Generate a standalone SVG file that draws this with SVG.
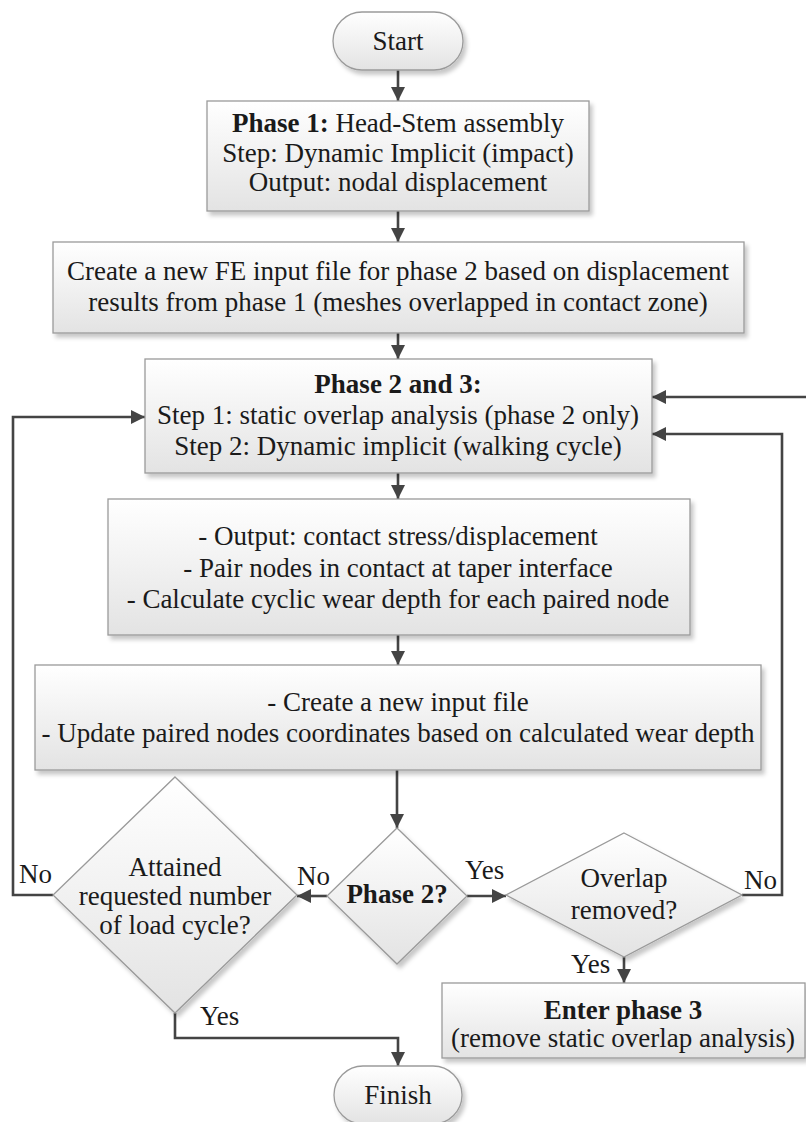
<svg xmlns="http://www.w3.org/2000/svg" width="806" height="1122" viewBox="0 0 806 1122">
<style>
.shape{fill:url(#g);stroke:#9a9a9a;stroke-width:1.3;filter:url(#sh)}
.t{font-family:"Liberation Serif","Times New Roman",serif;font-size:27px;fill:#1a1a1a;text-anchor:middle}
.l{font-family:"Liberation Serif","Times New Roman",serif;font-size:27px;fill:#1a1a1a}
.b{font-weight:bold}
.c{fill:none;stroke:#444;stroke-width:2.6;marker-end:url(#ah)}
.cn{fill:none;stroke:#444;stroke-width:2.6}
</style>
<defs>
<linearGradient id="g" x1="0" y1="0" x2="0" y2="1">
<stop offset="0" stop-color="#ffffff"/>
<stop offset="1" stop-color="#e3e3e3"/>
</linearGradient>
<filter id="sh" x="-10%" y="-10%" width="130%" height="130%">
<feDropShadow dx="3" dy="4" stdDeviation="2" flood-color="#000" flood-opacity="0.22"/>
</filter>
<marker id="ah" viewBox="0 0 10 10" refX="10" refY="5" markerWidth="14" markerHeight="14" markerUnits="userSpaceOnUse" orient="auto">
<path d="M0,0 L10,5 L0,10 z" fill="#444"/>
</marker>
</defs>
<rect width="806" height="1122" fill="#fff"/>

<g id="connectors">
<path class="c" d="M398,70 V101"/>
<path class="c" d="M398,211 V242"/>
<path class="c" d="M398,333 V359"/>
<path class="c" d="M398,473 V499"/>
<path class="c" d="M398,635 V665"/>
<path class="c" d="M397,770 V828"/>
<path class="c" d="M327,896 H297"/>
<path class="c" d="M467,896 H506"/>
<path class="c" d="M53,895 H13 V417 H145"/>
<path class="c" d="M742,895 H782 V434 H652"/>
<path class="c" d="M808,397 H652"/>
<path class="c" d="M624,957 V983"/>
<path class="c" d="M175,1013 V1038 H398 V1066"/>
</g>

<g id="start">
<rect class="shape" x="333" y="12" width="130" height="58" rx="29" ry="29"/>
<text class="t" x="398" y="50">Start</text>
</g>

<g id="phase1">
<rect class="shape" x="207" y="101" width="382" height="110"/>
<text class="t" x="398" y="132"><tspan class="b">Phase 1:</tspan> Head-Stem assembly</text>
<text class="t" x="398" y="162">Step: Dynamic Implicit (impact)</text>
<text class="t" x="398" y="191">Output: nodal displacement</text>
</g>

<g id="create-fe">
<rect class="shape" x="53" y="242" width="691" height="91"/>
<text class="t" x="398" y="280">Create a new FE input file for phase 2 based on displacement</text>
<text class="t" x="398" y="311">results from phase 1 (meshes overlapped in contact zone)</text>
</g>

<g id="phase23">
<rect class="shape" x="145" y="359" width="507" height="114"/>
<text class="t b" x="398" y="393">Phase 2 and 3:</text>
<text class="t" x="398" y="424">Step 1: static overlap analysis (phase 2 only)</text>
<text class="t" x="398" y="455">Step 2: Dynamic implicit (walking cycle)</text>
</g>

<g id="output">
<rect class="shape" x="108" y="499" width="582" height="136"/>
<text class="t" x="398" y="545">- Output: contact stress/displacement</text>
<text class="t" x="398" y="577">- Pair nodes in contact at taper interface</text>
<text class="t" x="398" y="608">- Calculate cyclic wear depth for each paired node</text>
</g>

<g id="update">
<rect class="shape" x="35" y="665" width="726" height="105"/>
<text class="t" x="398" y="711">- Create a new input file</text>
<text class="t" x="398" y="742">- Update paired nodes coordinates based on calculated wear depth</text>
</g>

<g id="phase2q">
<polygon class="shape" points="397,828 467,896 397,964 327,896"/>
<text class="t b" x="397" y="903">Phase 2?</text>
</g>

<g id="attained">
<polygon class="shape" points="175,777 297,895 175,1013 53,895"/>
<text class="t" x="175" y="876">Attained</text>
<text class="t" x="175" y="905">requested number</text>
<text class="t" x="175" y="934">of load cycle?</text>
</g>

<g id="overlap">
<polygon class="shape" points="624,833 742,895 624,957 506,895"/>
<text class="t" x="624" y="887">Overlap</text>
<text class="t" x="624" y="919">removed?</text>
</g>

<g id="phase3">
<rect class="shape" x="442" y="983" width="363" height="75"/>
<text class="t b" x="623" y="1019">Enter phase 3</text>
<text class="t" x="623" y="1047">(remove static overlap analysis)</text>
</g>

<g id="finish">
<rect class="shape" x="334" y="1066" width="128" height="58" rx="29" ry="29"/>
<text class="t" x="398" y="1104">Finish</text>
</g>

<g id="labels">
<text class="l" x="19" y="883">No</text>
<text class="l" x="297" y="885">No</text>
<text class="l" x="465" y="879">Yes</text>
<text class="l" x="744" y="889">No</text>
<text class="l" x="571" y="973">Yes</text>
<text class="l" x="200" y="1025">Yes</text>
</g>
</svg>
